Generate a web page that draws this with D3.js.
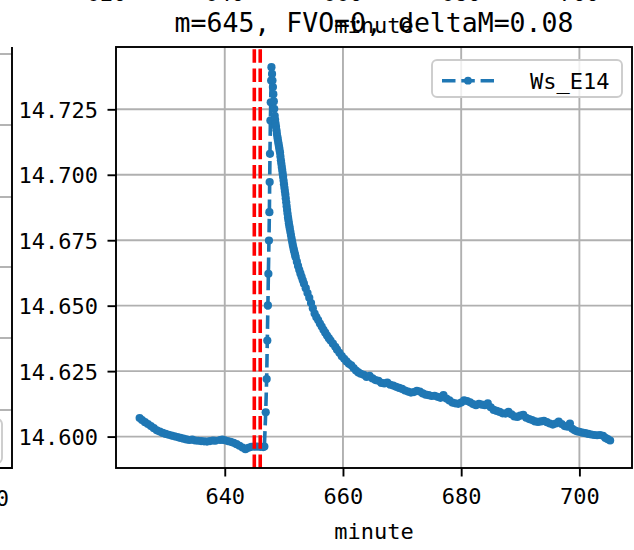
<!DOCTYPE html>
<html>
<head>
<meta charset="utf-8">
<script src="https://cdn.jsdelivr.net/npm/d3@7"></script>
<style>
  html, body { margin: 0; padding: 0; background: #fff; }
  svg { display: block; }
  text { font-family: "DejaVu Sans Mono", "Liberation Mono", monospace; fill: #000; }
</style>
</head>
<body>
<svg id="chart" width="634" height="550"></svg>
<script>
// ---------------- data ----------------
const titleText = "m=645, FVO=0, deltaM=0.08";
const xLabel = "minute";
const seriesName = "Ws_E14";
const xTicks = [640, 660, 680, 700];
const yTicks = [14.600, 14.625, 14.650, 14.675, 14.700, 14.725];
const eventMinutes = [645, 646];
const upperTickLabels = [620, 640, 660, 680, 700];

const minutes = [
  625.6, 626.0, 626.5, 627.0, 627.5, 628.0, 628.5, 629.0, 629.5, 630.0,
  630.5, 631.0, 631.5, 632.0, 632.5, 633.0, 633.5, 634.0, 634.5, 635.0,
  635.5, 636.0, 636.5, 637.0, 637.5, 638.0, 638.4, 639.2, 639.6, 640.0,
  640.5, 641.0, 641.5, 642.0, 642.5, 643.0, 643.5, 644.0, 644.5, 645.0,
  645.5, 646.0, 646.5, 646.7,
  646.93, 647.09, 647.2, 647.3, 647.38, 647.48, 647.55, 647.6, 647.65, 647.72,
  647.78, 647.85, 647.9,
  648.0, 648.07, 648.15, 648.22, 648.3, 648.37, 648.45, 648.52, 648.6, 648.67,
  648.75, 648.82, 648.9, 648.97, 649.05, 649.12, 649.2, 649.27, 649.35, 649.42,
  649.5, 649.57, 649.65, 649.72, 649.8, 649.87, 649.95, 650.02, 650.1, 650.17,
  650.25, 650.32, 650.4, 650.47, 650.55, 650.62, 650.7, 650.77, 650.85, 650.92,
  651.0, 651.1, 651.2, 651.3, 651.4, 651.5, 651.6, 651.7, 651.8, 651.9,
  652.0, 652.2, 652.4, 652.6, 652.8,
  653.0, 653.2, 653.4, 653.7, 654.0, 654.3, 654.6, 654.9, 655.2, 655.5,
  655.8, 656.1, 656.4, 656.7, 657.0, 657.3, 657.6, 657.9, 658.3, 658.7,
  659.0, 659.4, 659.8, 660.2, 660.6, 661.0, 661.4, 661.8, 662.2, 662.6,
  663.0, 663.5, 664.0, 664.5, 665.0, 665.5, 666.0, 666.5, 667.0, 667.5,
  668.0, 668.5, 669.0, 669.5, 670.0, 670.5, 671.0, 671.5, 672.0, 672.5,
  673.0, 673.5, 674.0, 674.5, 675.0, 675.5, 676.0, 676.5, 677.0, 677.5,
  678.0, 678.5, 679.0, 679.5, 680.0, 680.5, 681.0, 681.5, 682.0, 682.5,
  683.0, 683.5, 684.0, 684.5, 685.0, 685.5, 686.0, 686.5, 687.0, 687.5,
  688.0, 688.5, 689.0, 689.5, 690.0, 690.5, 691.0, 691.5, 692.0, 692.5,
  693.0, 693.5, 694.0, 694.5, 695.0, 695.5, 696.0, 696.5, 697.0, 697.5,
  698.0, 698.4, 698.8, 699.2, 699.6, 700.0, 700.5, 701.0, 701.5, 702.0,
  702.5, 703.0, 703.5, 704.0, 704.4, 704.8, 705.2
];
const ws = [
  14.6071, 14.6063, 14.6055, 14.6048, 14.6040, 14.6032, 14.6024, 14.6019, 14.6014, 14.6010,
  14.6007, 14.6004, 14.6001, 14.5998, 14.5995, 14.5992, 14.5989, 14.5987, 14.5988, 14.5985,
  14.5984, 14.5983, 14.5982, 14.5981, 14.5983, 14.5985, 14.5984, 14.5987, 14.5988, 14.5986,
  14.5983, 14.5980, 14.5976, 14.5971, 14.5965, 14.5958, 14.5952, 14.5957, 14.5961, 14.5962,
  14.5962, 14.5961, 14.5960, 14.5962,
  14.6093, 14.6220, 14.6367, 14.6501, 14.6622, 14.6749, 14.6857, 14.6972, 14.7080, 14.7207,
  14.7277, 14.7360, 14.7411,
  14.7385, 14.7360, 14.7335, 14.7308, 14.7280, 14.7252, 14.7225, 14.7210, 14.7195, 14.7183,
  14.7170, 14.7157, 14.7145, 14.7135, 14.7125, 14.7115, 14.7105, 14.7095, 14.7085, 14.7070,
  14.7055, 14.7043, 14.7030, 14.7018, 14.7005, 14.6992, 14.6978, 14.6964, 14.6950, 14.6938,
  14.6925, 14.6910, 14.6895, 14.6880, 14.6865, 14.6852, 14.6838, 14.6827, 14.6815, 14.6805,
  14.6795, 14.6782, 14.6770, 14.6757, 14.6745, 14.6733, 14.6722, 14.6712, 14.6703, 14.6694,
  14.6685, 14.6668, 14.6652, 14.6637, 14.6623,
  14.6610, 14.6597, 14.6584, 14.6567, 14.6548, 14.6530, 14.6510, 14.6490, 14.6470, 14.6456,
  14.6445, 14.6432, 14.6420, 14.6408, 14.6397, 14.6386, 14.6376, 14.6367, 14.6355, 14.6343,
  14.6332, 14.6320, 14.6307, 14.6297, 14.6287, 14.6278, 14.6272, 14.6262, 14.6252, 14.6245,
  14.6240, 14.6236, 14.6228, 14.6232, 14.6222, 14.6216, 14.6213, 14.6205, 14.6203, 14.6206,
  14.6198, 14.6195, 14.6190, 14.6186, 14.6182, 14.6176, 14.6172, 14.6168, 14.6170, 14.6175,
  14.6172, 14.6165, 14.6160, 14.6158, 14.6155, 14.6156, 14.6152, 14.6148, 14.6158, 14.6145,
  14.6138, 14.6130, 14.6127, 14.6125, 14.6130, 14.6138, 14.6136, 14.6131, 14.6124, 14.6120,
  14.6125, 14.6122, 14.6120, 14.6127, 14.6112, 14.6102, 14.6098, 14.6094, 14.6089, 14.6088,
  14.6094, 14.6085, 14.6077, 14.6075, 14.6080, 14.6083, 14.6072, 14.6067, 14.6063, 14.6058,
  14.6056, 14.6058, 14.6060, 14.6055, 14.6050, 14.6046, 14.6050, 14.6057, 14.6048, 14.6040,
  14.6038, 14.6050, 14.6030, 14.6024, 14.6020, 14.6018, 14.6015, 14.6013, 14.6010, 14.6008,
  14.6006, 14.6005, 14.6006, 14.6003, 14.5995, 14.5990, 14.5985
];

// ---------------- layout ----------------
const svg = d3.select("#chart");
const pLeft = 116, pRight = 632, pTop = 47, pBottom = 468;
const blue = "#1f77b4";
const gridColor = "#b0b0b0";

const x = d3.scaleLinear().domain([621.6, 708.9]).range([pLeft, pRight]);
const y = d3.scaleLinear().domain([14.5880, 14.7488]).range([pBottom, pTop]);

const data = minutes.map((m, i) => ({ m, v: ws[i] })).filter(d => d.v !== undefined);

// ---------- fragments of neighbouring subplots ----------
const leftGridY = [54, 125, 197, 267, 338, 410];
svg.append("g").selectAll("line").data(leftGridY).join("line")
  .attr("x1", 0).attr("x2", 12).attr("y1", d => d).attr("y2", d => d)
  .attr("stroke", gridColor).attr("stroke-width", 1.9);
svg.append("rect").attr("x", -60).attr("y", 419).attr("width", 62).attr("height", 44)
  .attr("rx", 5).attr("fill", "#fff").attr("stroke", "#cccccc").attr("stroke-width", 1.9);
svg.append("path").attr("d", `M12,${pTop}V${pBottom}H-2`)
  .attr("fill", "none").attr("stroke", "#000").attr("stroke-width", 1.9);
svg.append("text").attr("x", 9).attr("y", 506).attr("text-anchor", "end")
  .attr("font-size", 22).text("700");

svg.append("g").selectAll("text").data(upperTickLabels).join("text")
  .attr("x", d => x(d)).attr("y", 1).attr("text-anchor", "middle")
  .attr("font-size", 22).text(d => d);
svg.append("text").attr("x", (pLeft + pRight) / 2).attr("y", 33)
  .attr("text-anchor", "middle").attr("font-size", 22).text(xLabel);

// ---------------- main axes ----------------
svg.append("defs").append("clipPath").attr("id", "plotclip")
  .append("rect").attr("x", pLeft).attr("y", pTop)
  .attr("width", pRight - pLeft).attr("height", pBottom - pTop);

const grid = svg.append("g");
grid.selectAll(".gx").data(xTicks).join("line")
  .attr("x1", d => x(d)).attr("x2", d => x(d)).attr("y1", pTop).attr("y2", pBottom)
  .attr("stroke", gridColor).attr("stroke-width", 1.9);
grid.selectAll(".gy").data(yTicks).join("line")
  .attr("x1", pLeft).attr("x2", pRight).attr("y1", d => y(d)).attr("y2", d => y(d))
  .attr("stroke", gridColor).attr("stroke-width", 1.9);

const plot = svg.append("g").attr("clip-path", "url(#plotclip)");
const line = d3.line().x(d => x(d.m)).y(d => y(d.v));
plot.append("path").datum(data).attr("d", line)
  .attr("fill", "none").attr("stroke", blue).attr("stroke-width", 3.6)
  .attr("stroke-dasharray", "13.5,5.8");
plot.append("g").selectAll("circle").data(data).join("circle")
  .attr("cx", d => x(d.m)).attr("cy", d => y(d.v)).attr("r", 4.1)
  .attr("fill", blue);

plot.append("g").selectAll("line").data(eventMinutes).join("line")
  .attr("x1", d => x(d)).attr("x2", d => x(d)).attr("y1", pBottom).attr("y2", pTop)
  .attr("stroke", "red").attr("stroke-width", 3.6).attr("stroke-dasharray", "13.5,5.8");

const xAxis = d3.axisBottom(x).tickValues(xTicks).tickSize(8.5).tickPadding(12).tickFormat(d3.format("d"));
const yAxis = d3.axisLeft(y).tickValues(yTicks).tickSize(8.5).tickPadding(9.5).tickFormat(d3.format(".3f"));
const gx = svg.append("g").attr("transform", `translate(0,${pBottom})`).call(xAxis);
const gy = svg.append("g").attr("transform", `translate(${pLeft},0)`).call(yAxis);
[gx, gy].forEach(g => {
  g.select(".domain").remove();
  g.selectAll(".tick line").attr("stroke", "#000").attr("stroke-width", 1.9);
  g.selectAll(".tick text").attr("font-size", 22)
    .attr("font-family", "'DejaVu Sans Mono', 'Liberation Mono', monospace").attr("fill", "#000");
});
gy.selectAll(".tick text").attr("dy", "0.36em");

svg.append("rect").attr("x", pLeft).attr("y", pTop)
  .attr("width", pRight - pLeft).attr("height", pBottom - pTop)
  .attr("fill", "none").attr("stroke", "#000").attr("stroke-width", 1.9);

svg.append("text").attr("x", (pLeft + pRight) / 2).attr("y", 538.8)
  .attr("text-anchor", "middle").attr("font-size", 22).text(xLabel);
svg.append("text").attr("x", (pLeft + pRight) / 2).attr("y", 32)
  .attr("text-anchor", "middle").attr("font-size", 26.5).text(titleText);

const lg = svg.append("g");
lg.append("rect").attr("x", 432).attr("y", 60).attr("width", 190).attr("height", 37)
  .attr("rx", 5).attr("fill", "#fff").attr("fill-opacity", 0.8)
  .attr("stroke", "#cccccc").attr("stroke-width", 1.9);
lg.append("line").attr("x1", 442).attr("x2", 494).attr("y1", 80.7).attr("y2", 80.7)
  .attr("stroke", blue).attr("stroke-width", 3.6).attr("stroke-dasharray", "13.5,5.8");
lg.append("circle").attr("cx", 468).attr("cy", 80.7).attr("r", 3.9).attr("fill", blue);
lg.append("text").attr("x", 530).attr("y", 88.5).attr("font-size", 22).text(seriesName);
</script>
</body>
</html>
